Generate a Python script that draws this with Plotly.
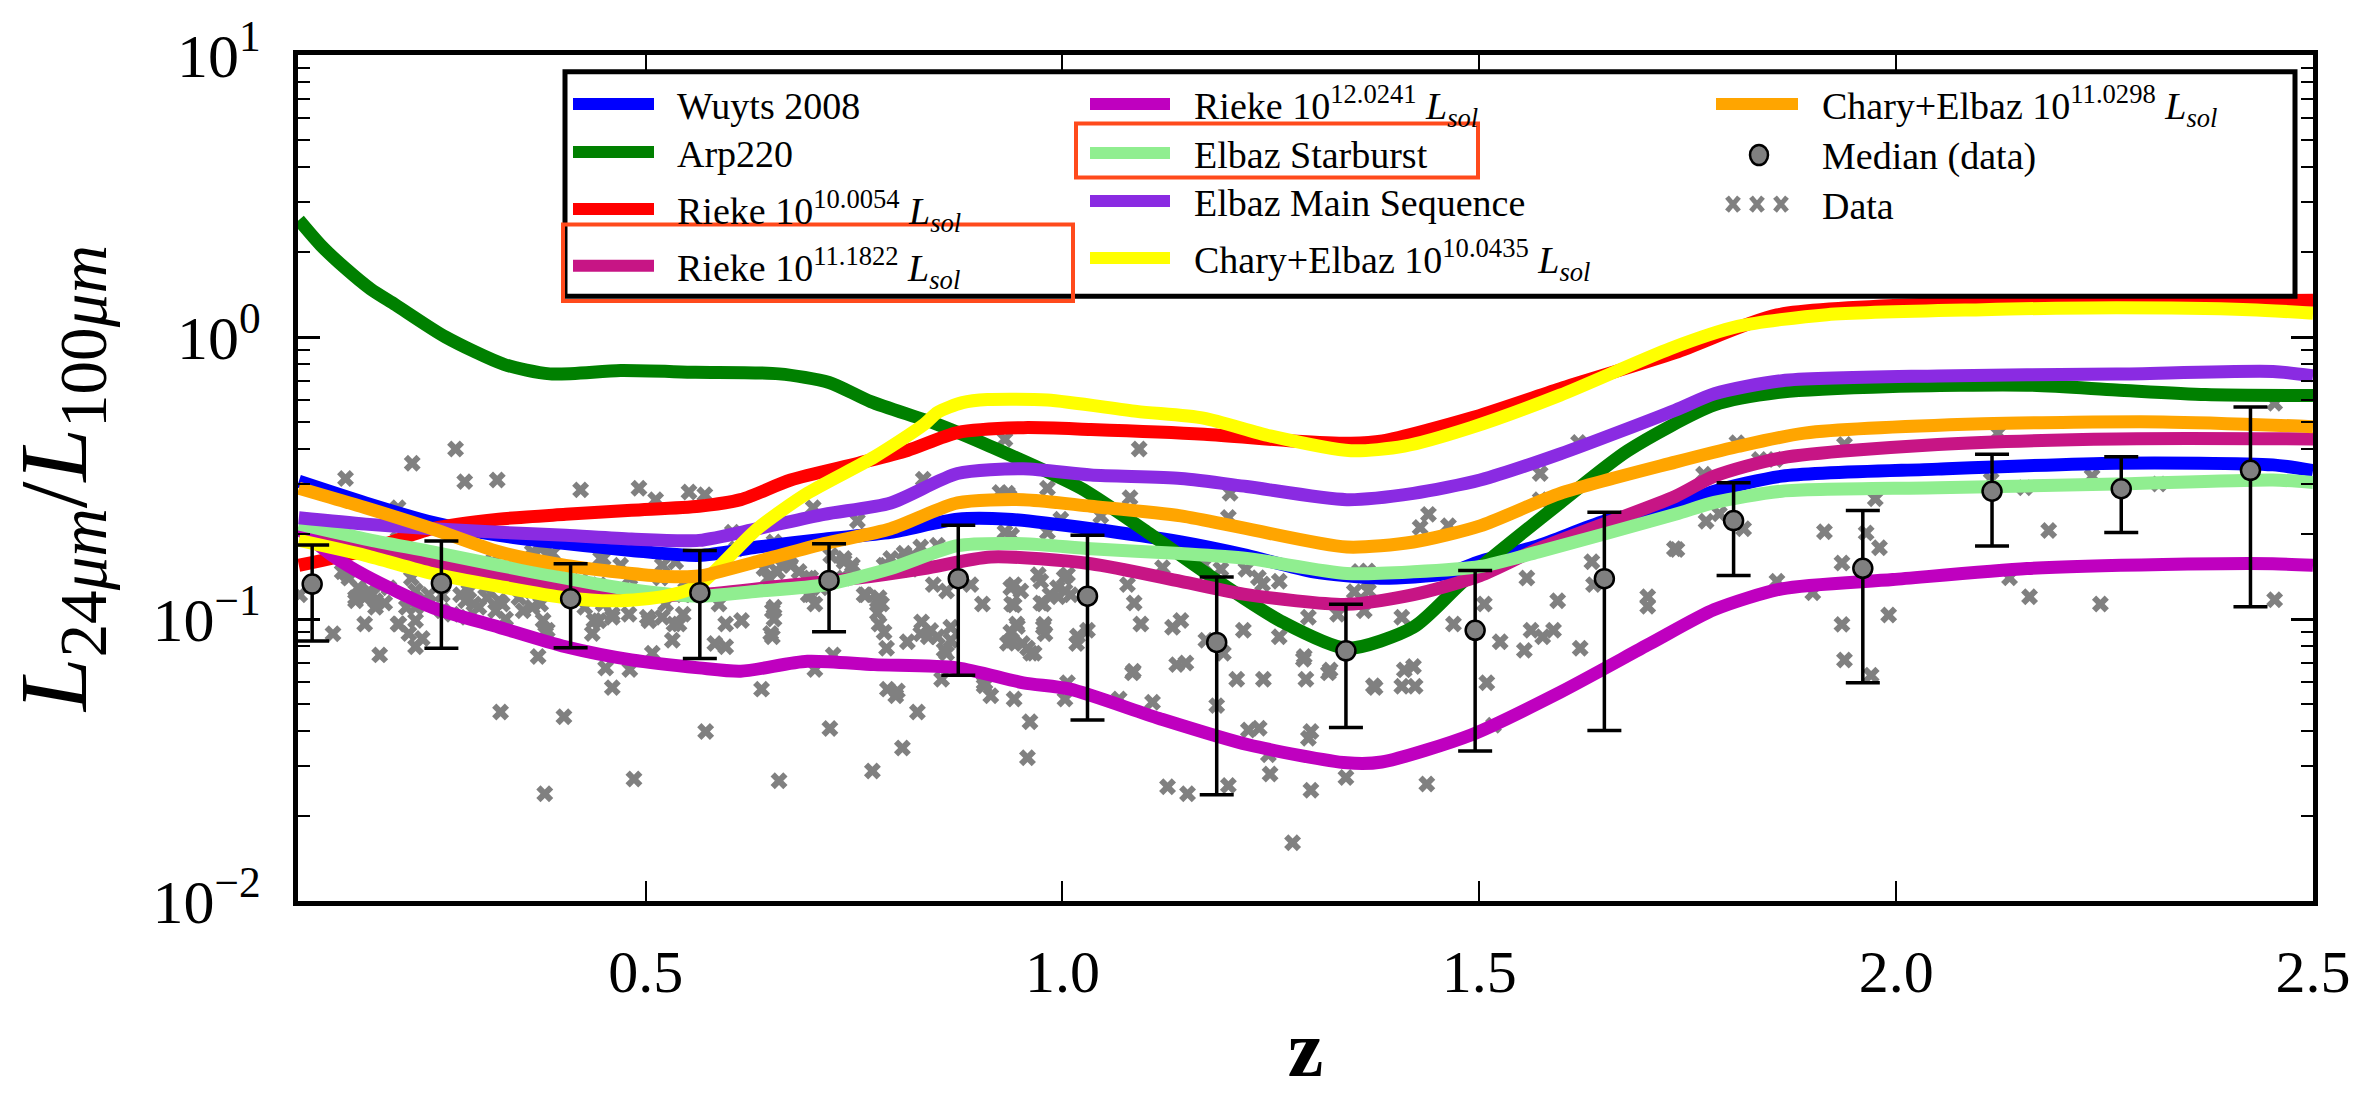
import plotly.graph_objects as go

# ---------------- data ----------------
wuyts_z = [0.084, 0.164, 0.244, 0.324, 0.404, 0.483, 0.564, 0.634, 0.714, 0.794, 0.874, 0.934, 1.034, 1.142,
           1.221, 1.301, 1.381, 1.461, 1.501, 1.571, 1.65, 1.735, 1.782, 1.863, 2.05, 2.264, 2.452, 2.5]
wuyts_y = [0.308, 0.258, 0.22, 0.198, 0.185, 0.175, 0.168, 0.18, 0.192, 0.203, 0.226, 0.226, 0.209, 0.1875,
           0.168, 0.147, 0.1396, 0.145, 0.16, 0.182, 0.222, 0.252, 0.284, 0.321, 0.340, 0.357, 0.352, 0.336]

arp_z = [0.084, 0.11, 0.14, 0.17, 0.2, 0.26, 0.33, 0.385, 0.47, 0.56, 0.66, 0.72, 0.77, 0.85, 0.913, 1.022, 1.102,
         1.181, 1.261, 1.341, 1.421, 1.481, 1.597, 1.678, 1.782, 1.863, 1.996, 2.157, 2.264, 2.371, 2.5]
arp_y = [2.6, 2.12, 1.75, 1.48, 1.30, 1.0, 0.80, 0.74, 0.76, 0.75, 0.74, 0.69, 0.59, 0.49, 0.41, 0.291, 0.203,
         0.1396, 0.0986, 0.0787, 0.0935, 0.136, 0.258, 0.395, 0.574, 0.638, 0.668, 0.675, 0.649, 0.625, 0.62]

rieke10_z = [0.084, 0.164, 0.244, 0.324, 0.404, 0.483, 0.564, 0.614, 0.674, 0.754, 0.814, 0.874, 0.953, 1.034,
             1.17, 1.276, 1.346, 1.384, 1.49, 1.597, 1.735, 1.857, 2.05, 2.2, 2.35, 2.5]
rieke10_y = [0.155, 0.175, 0.209, 0.226, 0.235, 0.243, 0.251, 0.265, 0.311, 0.356, 0.396, 0.458, 0.477, 0.470,
             0.452, 0.428, 0.42, 0.428, 0.516, 0.656, 0.88, 1.197, 1.31, 1.33, 1.34, 1.35]

rieke11_z = [0.084, 0.164, 0.244, 0.324, 0.404, 0.483, 0.564, 0.674, 0.754, 0.834, 0.914, 1.034, 1.142, 1.221,
             1.341, 1.421, 1.501, 1.571, 1.735, 1.782, 1.863, 2.05, 2.264, 2.5]
rieke11_y = [0.209, 0.1775, 0.16, 0.1425, 0.13, 0.122, 0.122, 0.132, 0.1396, 0.151, 0.166, 0.157, 0.136, 0.122,
             0.1127, 0.122, 0.1425, 0.1775, 0.272, 0.321, 0.373, 0.416, 0.435, 0.435]

rieke12_z = [0.084, 0.124, 0.164, 0.244, 0.324, 0.404, 0.483, 0.564, 0.614, 0.694, 0.774, 0.874, 0.953, 1.009,
             1.116, 1.223, 1.341, 1.383, 1.49, 1.597, 1.705, 1.782, 1.863, 1.996, 2.157, 2.32, 2.452, 2.5]
rieke12_y = [0.209, 0.168, 0.1425, 0.110, 0.0935, 0.0797, 0.0716, 0.0671, 0.0653, 0.0708, 0.0689, 0.0671, 0.0594,
             0.0564, 0.0444, 0.0358, 0.0309, 0.0311, 0.0388, 0.055, 0.0818, 0.108, 0.128, 0.138, 0.151, 0.156,
             0.157, 0.155]

elbaz_sb_z = [0.084, 0.164, 0.244, 0.324, 0.404, 0.483, 0.564, 0.634, 0.714, 0.794, 0.874, 0.953, 1.034, 1.142,
              1.221, 1.341, 1.421, 1.501, 1.571, 1.735, 1.782, 1.863, 2.05, 2.264, 2.452, 2.5]
elbaz_sb_y = [0.217, 0.192, 0.173, 0.155, 0.1396, 0.127, 0.1205, 0.1255, 0.132, 0.151, 0.182, 0.185, 0.1775,
              0.1706, 0.164, 0.145, 0.147, 0.1535, 0.173, 0.235, 0.259, 0.284, 0.292, 0.301, 0.311, 0.305]

elbaz_ms_z = [0.084, 0.164, 0.244, 0.324, 0.404, 0.483, 0.564, 0.634, 0.714, 0.794, 0.874, 0.953, 1.034, 1.142,
              1.221, 1.341, 1.421, 1.501, 1.597, 1.735, 1.782, 1.863, 2.05, 2.264, 2.452, 2.5]
elbaz_ms_y = [0.2285, 0.217, 0.209, 0.203, 0.198, 0.192, 0.19, 0.209, 0.235, 0.258, 0.328, 0.341, 0.324, 0.315,
              0.295, 0.265, 0.279, 0.311, 0.385, 0.55, 0.629, 0.70, 0.728, 0.739, 0.755, 0.728]

chary10_z = [0.084, 0.164, 0.244, 0.324, 0.404, 0.464, 0.524, 0.564, 0.634, 0.694, 0.774, 0.834, 0.85, 0.88,
             0.91, 0.982, 1.089, 1.169, 1.249, 1.346, 1.41, 1.49, 1.597, 1.729, 1.81, 1.917, 2.104, 2.264,
             2.424, 2.5]
chary10_y = [0.19, 0.168, 0.145, 0.1305, 0.119, 0.116, 0.1205, 0.132, 0.209, 0.279, 0.375, 0.49, 0.54, 0.585,
             0.60, 0.598, 0.545, 0.516, 0.446, 0.395, 0.41, 0.477, 0.622, 0.91, 1.09, 1.20, 1.25, 1.27, 1.25,
             1.215]

chary11_z = [0.084, 0.164, 0.244, 0.324, 0.404, 0.483, 0.524, 0.564, 0.634, 0.714, 0.794, 0.874, 0.953, 1.034,
             1.142, 1.221, 1.341, 1.421, 1.501, 1.597, 1.735, 1.81, 1.89, 2.104, 2.32, 2.5]
chary11_y = [0.291, 0.248, 0.209, 0.173, 0.155, 0.145, 0.1415, 0.142, 0.16, 0.185, 0.209, 0.258, 0.265, 0.251,
             0.232, 0.209, 0.18, 0.1875, 0.214, 0.279, 0.36, 0.409, 0.456, 0.492, 0.500, 0.481]

median_z = [0.10, 0.255, 0.41, 0.565, 0.72, 0.875, 1.03, 1.185, 1.34, 1.495, 1.65, 1.805, 1.96, 2.115, 2.27, 2.425]
median_y = [0.133, 0.134, 0.118, 0.124, 0.137, 0.139, 0.1205, 0.0826, 0.0771, 0.0912, 0.139, 0.2233, 0.1513,
            0.2838, 0.2897, 0.3367]
median_hi = [0.183, 0.189, 0.157, 0.175, 0.185, 0.215, 0.198, 0.141, 0.1127, 0.1486, 0.239, 0.304, 0.2426,
             0.3837, 0.376, 0.565]
median_lo = [0.0836, 0.0787, 0.079, 0.0724, 0.0902, 0.0632, 0.0438, 0.0238, 0.0412, 0.034, 0.0402, 0.1426,
             0.0594, 0.1816, 0.2028, 0.1106]

data_z = [0.140, 0.220, 0.203, 0.085, 0.125, 0.141, 0.155, 0.163, 0.152, 0.176, 0.187, 0.168, 0.163, 0.181, 0.203,
          0.219, 0.224, 0.213, 0.224, 0.224, 0.232, 0.203, 0.187, 0.272, 0.283, 0.322, 0.240, 0.235, 0.256, 0.278,
          0.288, 0.294, 0.286, 0.310, 0.320, 0.328, 0.331, 0.342, 0.353, 0.363, 0.374, 0.377, 0.382, 0.371, 0.326,
          0.379, 0.353, 0.363, 0.374, 0.422, 0.402, 0.460, 0.452, 0.481, 0.486, 0.422, 0.406, 0.444, 0.449, 0.438,
          0.460, 0.427, 0.449, 0.470, 0.481, 0.492, 0.512, 0.502, 0.508, 0.518, 0.524, 0.534, 0.532, 0.545, 0.545,
          0.552, 0.571, 0.572, 0.604, 0.609, 0.588, 0.596, 0.615, 0.583, 0.596, 0.639, 0.660, 0.647, 0.652, 0.652,
          0.663, 0.673, 0.684, 0.698, 0.701, 0.695, 0.703, 0.725, 0.703, 0.721, 0.754, 0.738, 0.748, 0.738, 0.764,
          0.780, 0.783, 0.789, 0.780, 0.789, 0.772, 0.802, 0.808, 0.826, 0.813, 0.821, 0.834, 0.850, 0.845, 0.833,
          0.831, 0.839, 0.850, 0.861, 0.855, 0.890, 0.906, 0.866, 0.861, 0.904,
          0.931, 1.092, 0.934, 0.982, 1.081, 1.201, 0.931, 0.939, 0.998, 0.982, 0.942, 0.950, 0.939, 0.945, 0.939,
          0.952, 0.966, 0.934, 0.971, 0.977, 0.985, 0.995, 1.006, 1.003, 0.977, 0.979, 1.017, 1.030, 0.907, 0.942,
          0.961, 0.958, 1.006, 1.003, 1.084, 1.068, 1.108, 1.086, 1.094, 1.132, 1.142, 1.148, 1.078, 1.172, 1.193,
          1.185, 1.217, 1.209, 1.241, 1.223, 1.236, 1.298, 1.295, 1.126, 1.150, 1.199, 1.247, 1.249, 1.276, 1.298,
          1.340, 1.260, 1.260, 1.290, 1.292, 1.319, 1.295, 1.330, 1.356, 1.367, 1.362, 1.375, 1.407, 1.421, 1.423,
          1.437, 1.407, 1.439, 1.429, 1.463, 1.469, 1.509, 1.517, 1.525, 1.554, 1.562, 1.576, 1.589, 1.557, 1.594,
          1.506, 1.619, 1.573, 1.573, 1.635, 1.637, 1.621, 1.702, 1.702, 1.734, 0.925, 0.936,
          1.046, 1.199, 1.12, 1.17, 1.19, 1.22, 1.235, 1.24, 1.366, 1.366, 1.35, 1.085, 1.137, 1.289, 1.321, 1.373,
          1.41,
          1.809, 1.938, 2.122, 1.769, 1.836, 1.855, 1.737, 1.772, 1.788, 1.817, 1.975, 1.914, 1.964, 1.980, 1.935,
          1.857, 1.900, 1.935, 1.991, 1.938, 1.970, 2.114, 2.154, 2.136, 2.160, 2.183, 2.235, 2.315, 2.245, 2.454,
          2.454,
          0.152, 0.172, 0.144, 0.136, 0.176, 0.192, 0.204, 0.224, 0.216, 0.236, 0.256, 0.268, 0.284, 0.300, 0.308,
          0.324, 0.332, 0.348, 0.364, 0.340, 0.316, 0.364, 0.388, 0.380, 0.446, 0.520, 0.536, 0.444, 0.460, 0.436,
          0.540, 0.520, 0.504, 0.480, 0.556, 0.548,
          0.654, 0.642, 0.658, 0.674, 0.694, 0.698, 0.71, 0.722, 0.738, 0.746, 0.762, 0.778, 0.786, 0.794, 0.81,
          0.83, 0.818, 0.778, 0.786, 0.814, 0.83, 0.842, 0.858, 0.866, 0.938, 0.942, 0.938, 0.946, 0.958, 0.962,
          0.974, 0.994, 1.01, 1.002, 0.974, 0.978, 1.018, 0.79, 0.80, 0.906, 0.914, 0.65, 0.654, 0.654]
data_y = [0.315, 0.357, 0.248, 0.122, 0.0887, 0.1455, 0.129, 0.119, 0.116, 0.116, 0.114, 0.1256, 0.096, 0.0746,
          0.096, 0.1397, 0.1256, 0.110, 0.0987, 0.0797, 0.0853, 0.192, 0.1775, 0.401, 0.307, 0.311, 0.122, 0.113,
          0.107, 0.122, 0.1256, 0.113, 0.1014, 0.119, 0.107, 0.113, 0.1324, 0.1473, 0.1397, 0.1256, 0.113, 0.0987,
          0.0912, 0.0736, 0.0468, 0.024, 0.107, 0.164, 0.1775, 0.287, 0.045, 0.0571, 0.067, 0.0662, 0.0271, 0.136,
          0.1256, 0.1324, 0.113, 0.0987, 0.1014, 0.110, 0.164, 0.155, 0.1397, 0.291, 0.265, 0.1014, 0.0756, 0.1397,
          0.113, 0.096, 0.0841, 0.122, 0.104, 0.282, 0.276, 0.0399, 0.203, 0.1775, 0.113, 0.096, 0.0987, 0.0819,
          0.0797, 0.0564, 0.0267, 0.1397, 0.107, 0.0865, 0.155, 0.164, 0.1473, 0.1397, 0.248, 0.122, 0.113, 0.0746,
          0.0662, 0.0409, 0.223, 0.164, 0.155, 0.1397, 0.122, 0.119, 0.113, 0.155, 0.096, 0.0787, 0.0289, 0.0556,
          0.0349, 0.0468, 0.164, 0.168, 0.155, 0.1825, 0.1324, 0.313, 0.0975, 0.0865, 0.0865, 0.0756, 0.0611,
          0.1324, 0.0594, 0.0935, 0.1256, 0.113,
          0.434, 0.401, 0.279, 0.291, 0.269, 0.279, 0.203, 0.198, 0.226, 0.203, 0.1324, 0.1256, 0.113, 0.096, 0.0841,
          0.0819, 0.0756, 0.082, 0.1435, 0.113, 0.122, 0.120, 0.1435, 0.1256, 0.0935, 0.0887, 0.0819, 0.0912,
          0.0594, 0.052, 0.0432, 0.0322, 0.0594, 0.052, 0.0644, 0.052, 0.0507, 0.114, 0.096, 0.0935, 0.0987, 0.0698,
          0.1324, 0.0841, 0.0756, 0.0493, 0.0912, 0.0611, 0.0611, 0.0404, 0.041, 0.0399, 0.0378, 0.0254, 0.024,
          0.0257, 0.033, 0.0282, 0.0161, 0.0247, 0.0274, 0.136, 0.0865, 0.0736, 0.0611, 0.0644, 0.1014, 0.104,
          0.1473, 0.1256, 0.107, 0.0571, 0.0577, 0.0679, 0.0577, 0.026, 0.1014, 0.235, 0.211, 0.214, 0.096, 0.0594,
          0.042, 0.083, 0.0774, 0.0912, 0.0865, 0.0912, 0.1397, 0.116, 0.113, 0.423, 0.328, 0.265, 0.1596, 0.1324,
          0.0787, 0.120, 0.111, 0.1775, 0.281, 0.272,
          0.232, 0.229, 0.152, 0.155, 0.15, 0.15, 0.14, 0.133, 0.148, 0.135, 0.125, 0.0653, 0.0689, 0.072, 0.066,
          0.058, 0.066,
          0.422, 0.416, 0.456, 0.326, 0.368, 0.368, 0.1765, 0.222, 0.236, 0.209, 0.267, 0.204, 0.202, 0.179, 0.158,
          0.136, 0.124, 0.0957, 0.1033, 0.0715, 0.0632, 0.311, 0.292, 0.140, 0.120, 0.206, 0.321, 0.301, 0.113,
          0.582, 0.117,
          0.119, 0.122, 0.1396, 0.147, 0.110, 0.129, 0.096, 0.110, 0.0888, 0.116, 0.122, 0.104, 0.116, 0.110, 0.129,
          0.116, 0.100, 0.119, 0.110, 0.136, 0.1596, 0.173, 0.171, 0.0888, 0.164, 0.155, 0.1596, 0.0986, 0.104,
          0.0888, 0.096, 0.1014, 0.0986, 0.104, 0.122, 0.136,
          0.1875, 0.151, 0.147, 0.155, 0.1396, 0.122, 0.129, 0.168, 0.16, 0.151, 0.122, 0.116, 0.155, 0.164, 0.171,
          0.18, 0.15, 0.105, 0.0898, 0.083, 0.0887, 0.091, 0.0777, 0.084, 0.129, 0.112, 0.0898, 0.094, 0.0789,
          0.0756, 0.136, 0.129, 0.122, 0.14, 0.114, 0.0959, 0.087, 0.0564, 0.0534, 0.058, 0.0534, 0.0888, 0.11, 0.10]

x_tick_vals = [0.5, 1.0, 1.5, 2.0, 2.5]
x_tick_text = ["0.5", "1.0", "1.5", "2.0", "2.5"]
y_tick_vals = [0.01, 0.1, 1, 10]
y_tick_text = ["10<sup>\u22122</sup>", "10<sup>\u22121</sup>", "10<sup>0</sup>", "10<sup>1</sup>"]
y_minor_vals = [k * 10.0 ** e for e in (-2, -1, 0) for k in range(2, 10)]

LSOL = " <i>L</i><sub><i>sol</i></sub>"
curve_names = ["Wuyts 2008", "Arp220", "Rieke 10<sup>10.0054</sup>" + LSOL, "Rieke 10<sup>11.1822</sup>" + LSOL,
               "Rieke 10<sup>12.0241</sup>" + LSOL, "Elbaz Starburst", "Elbaz Main Sequence",
               "Chary+Elbaz 10<sup>10.0435</sup>" + LSOL, "Chary+Elbaz 10<sup>11.0298</sup>" + LSOL]
curve_colors = ["#0000FF", "#008000", "#FF0000", "#C71585", "#BF00BF", "#90EE90", "#8A2BE2", "#FFFF00", "#FFA500"]
curves = [(wuyts_z, wuyts_y), (arp_z, arp_y), (rieke10_z, rieke10_y), (rieke11_z, rieke11_y),
          (rieke12_z, rieke12_y), (elbaz_sb_z, elbaz_sb_y), (elbaz_ms_z, elbaz_ms_y),
          (chary10_z, chary10_y), (chary11_z, chary11_y)]

FONT = "Liberation Serif"
GRAY = "#808080"

fig = go.Figure()

fig.add_trace(go.Scatter(x=data_z, y=data_y, mode="markers", name="Data", showlegend=False,
                         marker=dict(symbol="x", size=15, color=GRAY, line=dict(width=0))))

for (zz, yy), nm, col in zip(curves, curve_names, curve_colors):
    fig.add_trace(go.Scatter(x=zz, y=yy, mode="lines", name=nm, showlegend=False,
                             line=dict(color=col, width=13, shape="spline", smoothing=0.7)))

err_up = [h - m for h, m in zip(median_hi, median_y)]
err_dn = [m - l for m, l in zip(median_y, median_lo)]
fig.add_trace(go.Scatter(x=median_z, y=median_y, mode="markers", name="Median (data)", showlegend=False,
                         marker=dict(symbol="circle", size=19, color=GRAY, line=dict(color="black", width=2.5)),
                         error_y=dict(type="data", symmetric=False, array=err_up, arrayminus=err_dn,
                                      color="black", thickness=3.5, width=17)))

# ---------------- manual legend ----------------
L, R, T, B = 298, 2313, 53, 916
W, H = R - L, B - T


def px(x):
    return (x - L) / W


def py(y):
    return (B - y) / H


shapes = [dict(type="rect", xref="paper", yref="paper", x0=px(565), x1=px(2295), y0=py(299), y1=py(70),
               fillcolor="white", line=dict(color="black", width=5), layer="above")]
annotations = []

legend_cols = [
    (573, 654, 675, [(0, 103), (1, 152), (2, 210), (3, 268)]),
    (1090, 1170, 1192, [(4, 103), (5, 153), (6, 202), (7, 260)]),
    (1716, 1798, 1820, [(8, 103)]),
]
for x0, x1, xt, items in legend_cols:
    for idx, yrow in items:
        shapes.append(dict(type="line", xref="paper", yref="paper", x0=px(x0), x1=px(x1), y0=py(yrow),
                           y1=py(yrow), line=dict(color=curve_colors[idx], width=12), layer="above"))
        annotations.append(dict(xref="paper", yref="paper", x=px(xt), y=py(yrow + 2), xanchor="left",
                                yanchor="middle", showarrow=False, text=curve_names[idx],
                                font=dict(family=FONT, size=38, color="black")))

# median sample
shapes.append(dict(type="circle", xref="paper", yref="paper", xsizemode="pixel", ysizemode="pixel",
                   xanchor=px(1759), yanchor=py(155), x0=-9, x1=9, y0=-10, y1=10,
                   fillcolor=GRAY, line=dict(color="black", width=2.5), layer="above"))
annotations.append(dict(xref="paper", yref="paper", x=px(1820), y=py(157), xanchor="left", yanchor="middle",
                        showarrow=False, text="Median (data)", font=dict(family=FONT, size=38, color="black")))
# data sample
for xc in (1733, 1757, 1781):
    shapes.append(dict(type="path", xref="paper", yref="paper", xsizemode="pixel", ysizemode="pixel",
                       xanchor=px(xc), yanchor=py(205), path="M-6,-7 L6,7 M-6,7 L6,-7",
                       line=dict(color=GRAY, width=5), layer="above"))
annotations.append(dict(xref="paper", yref="paper", x=px(1820), y=py(207), xanchor="left", yanchor="middle",
                        showarrow=False, text="Data", font=dict(family=FONT, size=38, color="black")))

# red highlight boxes
HL = "#FF4A1C"
shapes.append(dict(type="rect", xref="paper", yref="paper", x0=px(563), x1=px(1073), y0=py(304), y1=py(226),
                   line=dict(color=HL, width=4), fillcolor="rgba(0,0,0,0)", layer="above"))
shapes.append(dict(type="rect", xref="paper", yref="paper", x0=px(1076), x1=px(1478), y0=py(178), y1=py(123),
                   line=dict(color=HL, width=4), fillcolor="rgba(0,0,0,0)", layer="above"))

fig.update_layout(
    width=2373, height=1093, autosize=False,
    margin=dict(l=L, r=2373 - R, t=T, b=1093 - B, pad=0),
    paper_bgcolor="white", plot_bgcolor="white",
    showlegend=False,
    shapes=shapes, annotations=annotations,
    font=dict(family=FONT, color="black"),
)

fig.update_xaxes(
    range=[0.083, 2.5], tickmode="array", tickvals=x_tick_vals, ticktext=x_tick_text,
    ticks="inside", ticklen=20, tickwidth=1.5, tickcolor="black",
    showline=True, linewidth=5, linecolor="black", mirror="allticks",
    showgrid=False, zeroline=False,
    tickfont=dict(family=FONT, size=60, color="black"), ticklabelstandoff=14,
    title=dict(text="<b>z</b>", font=dict(family=FONT, size=80, color="black"), standoff=20),
)
fig.update_yaxes(
    type="log", range=[-2, 1], tickmode="array", tickvals=y_tick_vals, ticktext=y_tick_text,
    ticks="inside", ticklen=22, tickwidth=3, tickcolor="black",
    minor=dict(ticks="inside", ticklen=12, tickwidth=2, tickcolor="black", tickmode="array",
               tickvals=y_minor_vals, showgrid=False),
    showline=True, linewidth=5, linecolor="black", mirror="allticks",
    showgrid=False, zeroline=False,
    tickfont=dict(family=FONT, size=62, color="black"), ticklabelstandoff=20,
    title=dict(text="<i>L</i><sub>24<i>\u03bcm</i></sub>/<i>L</i><sub>100<i>\u03bcm</i></sub>",
               font=dict(family=FONT, size=96, color="black"), standoff=36),
)

fig.write_html("out.html")
